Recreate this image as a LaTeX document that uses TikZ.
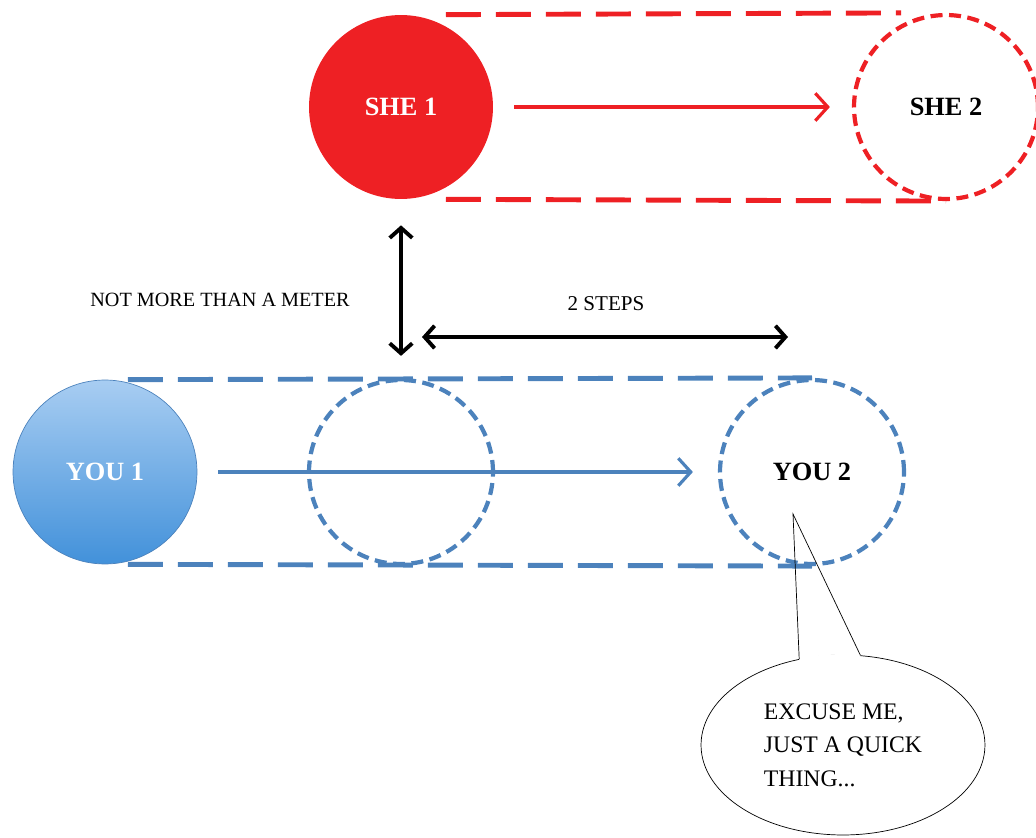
\documentclass[tikz,border=0pt]{standalone}
\usepackage{fontspec}
\setmainfont{Liberation Serif}
\usepackage{tikz}
\usetikzlibrary{arrows.meta,shapes.geometric}
\definecolor{shered}{RGB}{238,32,36}
\definecolor{youblue}{RGB}{76,130,188}
\definecolor{youlight}{RGB}{168,205,242}
\definecolor{youdark}{RGB}{66,145,218}
\tikzset{>={Straight Barb[length=2.5mm,width=5.5mm]}}
\tikzset{
  spot/.style={circle,minimum size=3.68cm,inner sep=0pt,font=\fontsize{15}{18}\selectfont\bfseries},
  ghost/.style={spot,line width=2.4pt,dash pattern=on 0.24cm off 0.13cm},
  track/.style={line width=2.8pt,dash pattern=on 0.7cm off 0.3cm},
  walkarrow/.style={->,line width=1.8pt},
  gaparrow/.style={<->,line width=2.2pt,>={Straight Barb[length=2mm,width=4.5mm]}},
  note/.style={font=\fontsize{11.5}{14}\selectfont}
}

\begin{document}
\begin{tikzpicture}[x=0.02cm,y=-0.02cm]
    \useasboundingbox (0,0) rectangle (1036,838);

    % she walks
    \node[spot,fill=shered,text=white] (she1) at (401,107) {SHE 1};
    \node[ghost,draw=shered] (she2) at (946,107) {SHE 2};
    \draw[track,shered] ([xshift=0.9cm]she1.north) -- ([xshift=-0.9cm]she2.north);
    \draw[track,shered] ([xshift=0.9cm]she1.south) -- (she2.south);
    \draw[walkarrow,shered,shorten <=0.42cm,shorten >=0.44cm] (she1) -- (she2);

    % you walk
    \node[spot,top color=youlight,bottom color=youdark,draw=youblue,thin,text=white] (you1) at (105,472) {YOU 1};
    \node[ghost,draw=youblue] (mid) at (401,472) {};
    \node[ghost,draw=youblue] (you2) at (812,472) {YOU 2};
    \draw[track,youblue] ([xshift=0.46cm]you1.north) -- (you2.north);
    \draw[track,youblue] ([xshift=0.46cm]you1.south) -- (you2.south);
    \draw[walkarrow,youblue,shorten <=0.42cm,shorten >=0.5cm] (you1) -- (you2);

    % distances
    \coordinate (stepL) at (422,337);
    \coordinate (stepR) at (788,337);
    \draw[gaparrow,shorten <=0.52cm,shorten >=0.44cm] (she1.south) -- (mid.north);
    \draw[gaparrow] (stepL) -- (stepR);
    \node[note] (meter) at (220,300) {NOT MORE THAN A METER};
    \node[note,font=\fontsize{12}{14}\selectfont] (steps) at (606,304) {2 STEPS};

    % speech bubble
    \node[ellipse,draw,thin,minimum width=5.68cm,minimum height=3.6cm,align=left,
          font=\fontsize{13.5}{19}\selectfont] (bubble) at (843,745)
          {EXCUSE ME,\\JUST A QUICK\\THING...};
    \coordinate (tip) at (793,514);
    \draw[white,line width=3pt] (bubble.117) -- (bubble.79);
    \draw[thin] (bubble.117) -- (tip) -- (bubble.79);
\end{tikzpicture}
\end{document}
